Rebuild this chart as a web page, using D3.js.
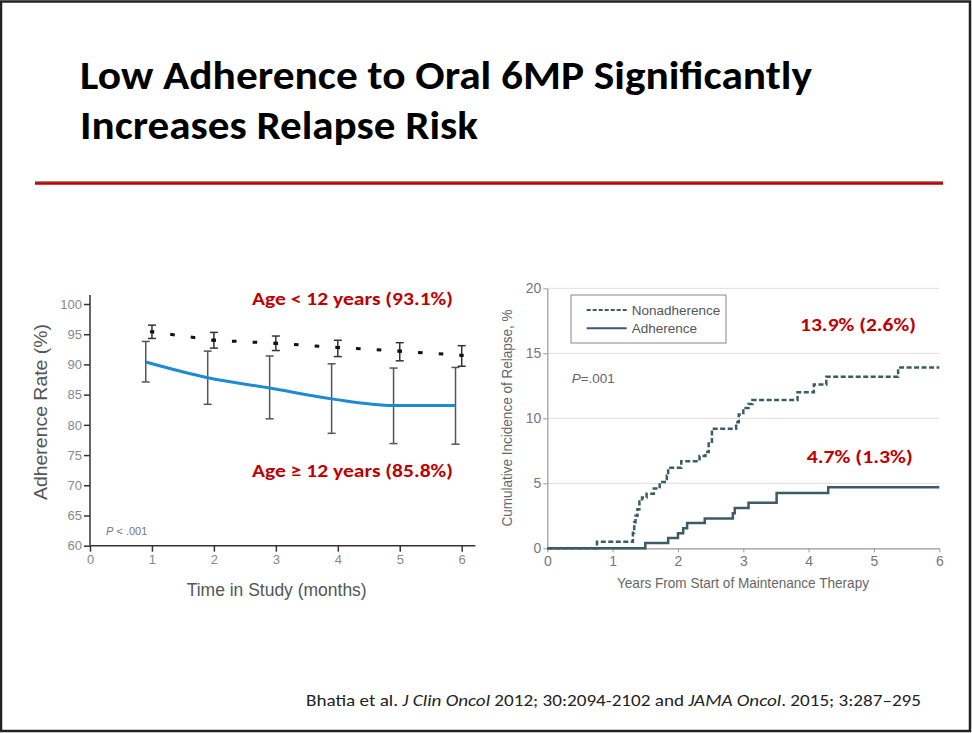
<!DOCTYPE html>
<html>
<head>
<meta charset="utf-8">
<script src="https://cdn.jsdelivr.net/npm/d3@7/dist/d3.min.js"></script>
<style>
  body { margin: 0; background: #fff; }
  svg { display: block; }
</style>
</head>
<body>
<script>
/*** 0. data ***/

// left panel: adherence rate by age group
var monthTicks = [0, 1, 2, 3, 4, 5, 6];
var adherenceTicks = [60, 65, 70, 75, 80, 85, 90, 95, 100];
var studyMonths = [1, 2, 3, 4, 5, 6];
var youngMean = [95.4, 94.0, 93.5, 92.8, 92.2, 91.5];
var youngLow  = [94.3, 92.7, 92.3, 91.3, 90.6, 89.7];
var youngHigh = [96.5, 95.3, 94.7, 94.0, 93.6, 93.1];
var olderMean = [90.4, 87.8, 86.1, 84.3, 83.2, 83.2];
var olderLow  = [87.1, 83.4, 81.0, 78.6, 76.9, 76.8];
var olderHigh = [93.8, 92.2, 91.4, 90.1, 89.4, 89.5];
var ageLabels = ['Age < 12 years (93.1%)', 'Age \u2265 12 years (85.8%)'];

// right panel: cumulative incidence of relapse (step functions)
var yearTicks = [0, 1, 2, 3, 4, 5, 6];
var relapseTicks = [0, 5, 10, 15, 20];
var nonadhYears = [0, 0.76, 1.31, 1.33, 1.35, 1.38, 1.41, 1.45, 1.52, 1.63, 1.72, 1.83, 1.85, 2.05, 2.33, 2.42, 2.47, 2.52, 2.89, 2.93, 3.0, 3.08, 3.14, 3.83, 4.08, 4.27, 5.37, 6];
var nonadhPct   = [0, 0.5,  1.2,  2.0,  2.5,  3.0,  3.6,  3.9,  4.2,  4.6,  5.1,  5.6,  6.2,  6.7,  7.1,  7.4,  8.2,  9.2,  9.7,  10.3, 10.8, 11.1, 11.4, 12.0, 12.6, 13.2, 13.9, 13.9];
var adhYears = [0, 1.5, 1.85, 2.0, 2.08, 2.14, 2.41, 2.84, 2.87, 3.08, 3.51, 4.3, 6];
var adhPct   = [0, 0.4, 0.8,  1.15, 1.55, 1.95, 2.3,  2.7,  3.1,  3.5,  4.25, 4.7, 4.7];
var seriesNames = ['Nonadherence', 'Adherence'];
var relapseLabels = ['13.9% (2.6%)', '4.7% (1.3%)'];

var slideTitle = ['Low Adherence to Oral 6MP Significantly', 'Increases Relapse Risk'];

var calibri = 'Carlito, Lato, "Open Sans", sans-serif';
var condensed = '"Liberation Sans Narrow", "Liberation Sans", Arial, sans-serif';
var red = '#c00000';
var intFmt = d3.format('d');

// squeeze or stretch a text to the width measured on the slide
function fit(sel, len) {
  sel.attr('textLength', len).attr('lengthAdjust', 'spacingAndGlyphs');
  return sel;
}

var svg = d3.select('body').append('svg')
  .attr('width', 972)
  .attr('height', 733);

/*** 1. slide frame, title, rule, citation ***/
svg.append('rect')
  .attr('x', 1).attr('y', 1.5).attr('width', 969).attr('height', 729.5)
  .attr('fill', '#fff').attr('stroke', '#222').attr('stroke-width', 2.5);

slideTitle.forEach(function (t, i) {
  fit(svg.append('text')
    .attr('x', 80).attr('y', 89 + i * 50)
    .attr('font-family', calibri).attr('font-weight', 'bold')
    .attr('font-size', 40).attr('fill', '#000')
    .text(t), i === 0 ? 732 : 398);
});

svg.append('line')
  .attr('x1', 35).attr('x2', 943).attr('y1', 182).attr('y2', 182)
  .attr('stroke', '#400').attr('stroke-width', 1);
svg.append('line')
  .attr('x1', 35).attr('x2', 943).attr('y1', 183.5).attr('y2', 183.5)
  .attr('stroke', red).attr('stroke-width', 2.5);

var cite = svg.append('text')
  .attr('x', 306).attr('y', 706)
  .attr('font-family', calibri).attr('font-size', 16).attr('fill', '#222');
cite.append('tspan').text('Bhatia et al. ');
cite.append('tspan').attr('font-style', 'italic').text('J Clin Oncol');
cite.append('tspan').text(' 2012; 30:2094-2102 and ');
cite.append('tspan').attr('font-style', 'italic').text('JAMA Oncol');
cite.append('tspan').text('. 2015; 3:287\u2013295');
fit(cite, 615);

/*** 2. left panel: adherence rate ***/
var xL = d3.scaleLinear().domain([0, 6]).range([90, 461.7]);
var yL = d3.scaleLinear().domain([60, 100]).range([545.7, 304]);
var left = svg.append('g').attr('class', 'leftpanel');

// axes (domain lines drawn by hand so they can overhang like the original)
var axL = left.append('g').attr('transform', 'translate(' + xL(0) + ',0)')
  .call(d3.axisLeft(yL).tickValues(adherenceTicks).tickFormat(intFmt).tickSize(6).tickPadding(2));
var axB = left.append('g').attr('transform', 'translate(0,' + yL(60) + ')')
  .call(d3.axisBottom(xL).tickValues(monthTicks).tickFormat(intFmt).tickSize(6).tickPadding(3));
[axL, axB].forEach(function (a) {
  a.select('.domain').remove();
  a.selectAll('line').attr('stroke', '#333').attr('stroke-width', 1.5);
  a.selectAll('text').attr('fill', '#888').attr('font-size', 13)
    .attr('font-family', '"Liberation Sans", Arial, sans-serif');
});
left.append('line')
  .attr('x1', xL(0)).attr('x2', xL(0)).attr('y1', yL(101.5)).attr('y2', yL(60))
  .attr('stroke', '#333').attr('stroke-width', 1.5);
left.append('line')
  .attr('x1', xL(0)).attr('x2', xL(6.22)).attr('y1', yL(60)).attr('y2', yL(60))
  .attr('stroke', '#333').attr('stroke-width', 1.5);

fit(left.append('text')
  .attr('x', (xL(0) + xL(6.22)) / 2 - 6).attr('y', 596)
  .attr('text-anchor', 'middle').attr('font-family', condensed)
  .attr('font-size', 19).attr('fill', '#555')
  .text('Time in Study (months)'), 180);
fit(left.append('text')
  .attr('transform', 'translate(47,412) rotate(-90)')
  .attr('text-anchor', 'middle').attr('font-family', condensed)
  .attr('font-size', 19).attr('fill', '#555')
  .text('Adherence Rate (%)'), 176);

var pL = left.append('text').attr('x', 106).attr('y', 535)
  .attr('font-family', '"Liberation Sans", Arial, sans-serif')
  .attr('font-size', 11).attr('fill', '#777');
pL.append('tspan').attr('font-style', 'italic').text('P');
pL.append('tspan').text(' < .001');

// error bars
function errorBars(g, xs, lo, hi, colour) {
  var cap = 4;
  xs.forEach(function (m, i) {
    var x = xL(m);
    g.append('line').attr('x1', x).attr('x2', x).attr('y1', yL(lo[i])).attr('y2', yL(hi[i]))
      .attr('stroke', colour).attr('stroke-width', 1.5);
    [lo[i], hi[i]].forEach(function (v) {
      g.append('line').attr('x1', x - cap).attr('x2', x + cap).attr('y1', yL(v)).attr('y2', yL(v))
        .attr('stroke', colour).attr('stroke-width', 1.5);
    });
  });
}

var olderMonths = studyMonths.map(function (m) { return m - 0.1; });
errorBars(left, olderMonths, olderLow, olderHigh, '#555');
errorBars(left, studyMonths, youngLow, youngHigh, '#333');

var lineL = d3.line()
  .x(function (d) { return xL(d[0]); })
  .y(function (d) { return yL(d[1]); });

left.append('path')
  .datum(d3.zip(olderMonths, olderMean))
  .attr('d', lineL.curve(d3.curveMonotoneX))
  .attr('fill', 'none').attr('stroke', '#1f8ad4').attr('stroke-width', 3);

// dotted line: three dots per month
left.append('path')
  .datum(d3.zip(studyMonths, youngMean))
  .attr('d', lineL.curve(d3.curveLinear))
  .attr('pathLength', 150)
  .attr('fill', 'none').attr('stroke', '#111').attr('stroke-width', 3)
  .attr('stroke-dasharray', '2.2 7.8').attr('stroke-dashoffset', 1.1);
left.selectAll('rect.youngdot')
  .data(d3.zip(studyMonths, youngMean))
  .join('rect').attr('class', 'youngdot')
  .attr('x', function (d) { return xL(d[0]) - 2; })
  .attr('y', function (d) { return yL(d[1]) - 1.5; })
  .attr('width', 4).attr('height', 3).attr('fill', '#111');

ageLabels.forEach(function (t, i) {
  fit(left.append('text')
    .attr('x', 252).attr('y', i === 0 ? 305 : 477)
    .attr('font-family', calibri).attr('font-weight', 'bold')
    .attr('font-size', 18).attr('fill', red)
    .text(t), 201);
});

/*** 3. right panel: cumulative incidence of relapse ***/
var xR = d3.scaleLinear().domain([0, 6]).range([547.3, 939.3]);
var yR = d3.scaleLinear().domain([0, 20]).range([548.3, 288.3]);
var right = svg.append('g').attr('class', 'rightpanel');

right.selectAll('line.grid')
  .data(relapseTicks.slice(1))
  .join('line').attr('class', 'grid')
  .attr('x1', xR(0)).attr('x2', xR(6))
  .attr('y1', function (d) { return yR(d); }).attr('y2', function (d) { return yR(d); })
  .attr('stroke', '#dedede').attr('stroke-width', 1);

var axRL = right.append('g').attr('transform', 'translate(' + xR(0) + ',0)')
  .call(d3.axisLeft(yR).tickValues(relapseTicks).tickFormat(intFmt).tickSize(4).tickPadding(2).tickSizeOuter(0));
var axRB = right.append('g').attr('transform', 'translate(0,' + yR(0) + ')')
  .call(d3.axisBottom(xR).tickValues(yearTicks).tickFormat(intFmt).tickSize(4).tickPadding(4).tickSizeOuter(0));
[axRL, axRB].forEach(function (a) {
  a.select('.domain').attr('stroke', '#999').attr('stroke-width', 1.2);
  a.selectAll('line').attr('stroke', '#999');
  a.selectAll('text').attr('fill', '#777').attr('font-size', 14).attr('font-family', condensed);
});

fit(right.append('text')
  .attr('x', 743).attr('y', 588)
  .attr('text-anchor', 'middle').attr('font-family', condensed)
  .attr('font-size', 15).attr('fill', '#666')
  .text('Years From Start of Maintenance Therapy'), 252);
fit(right.append('text')
  .attr('transform', 'translate(512,418) rotate(-90)')
  .attr('text-anchor', 'middle').attr('font-family', condensed)
  .attr('font-size', 15).attr('fill', '#666')
  .text('Cumulative Incidence of Relapse, %'), 217);

var pR = right.append('text').attr('x', 571.7).attr('y', 383)
  .attr('font-family', condensed).attr('font-size', 13.5).attr('fill', '#666');
pR.append('tspan').attr('font-style', 'italic').text('P');
pR.append('tspan').text('=.001');

var stepLine = d3.line()
  .curve(d3.curveStepAfter)
  .x(function (d) { return xR(d[0]); })
  .y(function (d) { return yR(d[1]); });

var teal = '#3b5c66';
right.append('path')
  .datum(d3.zip(adhYears, adhPct))
  .attr('d', stepLine)
  .attr('fill', 'none').attr('stroke', teal).attr('stroke-width', 2.5);
right.append('path')
  .datum(d3.zip(nonadhYears, nonadhPct))
  .attr('d', stepLine)
  .attr('fill', 'none').attr('stroke', teal).attr('stroke-width', 2.5)
  .attr('stroke-dasharray', '5 2.5');

// legend
var leg = right.append('g').attr('class', 'legend');
leg.append('rect').attr('x', 571).attr('y', 295).attr('width', 155).attr('height', 48)
  .attr('fill', '#fff').attr('stroke', '#888').attr('stroke-width', 1);
seriesNames.forEach(function (name, i) {
  var yy = 310 + i * 18.3;
  leg.append('line').attr('x1', 586.7).attr('x2', 626.7).attr('y1', yy).attr('y2', yy)
    .attr('stroke', teal).attr('stroke-width', i === 0 ? 1.8 : 2)
    .attr('stroke-dasharray', i === 0 ? '4 2' : null);
  leg.append('text').attr('x', 631.7).attr('y', yy + 4.5)
    .attr('font-family', condensed).attr('font-size', 13.5).attr('fill', '#555')
    .text(name);
});

relapseLabels.forEach(function (t, i) {
  fit(right.append('text')
    .attr('x', i === 0 ? 800 : 806.7).attr('y', i === 0 ? 331 : 463)
    .attr('font-family', calibri).attr('font-weight', 'bold')
    .attr('font-size', 18).attr('fill', red)
    .text(t), i === 0 ? 116 : 106);
});
</script>
</body>
</html>
